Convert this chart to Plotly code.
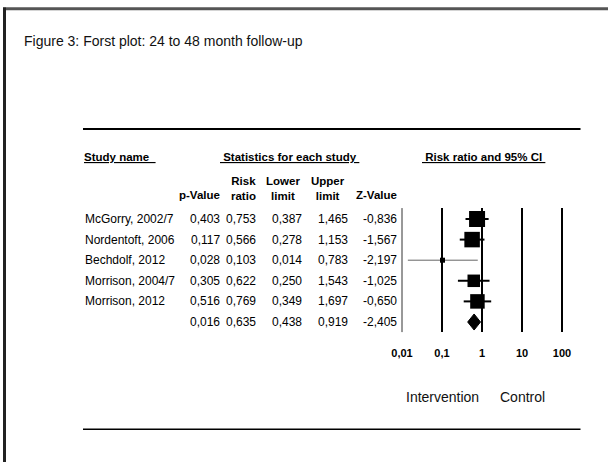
import math
import plotly.graph_objects as go

# ---------------- data ----------------
studies = ["McGorry, 2002/7", "Nordentoft, 2006", "Bechdolf, 2012",
           "Morrison, 2004/7", "Morrison, 2012", ""]
p_values = [0.403, 0.117, 0.028, 0.305, 0.516, 0.016]
risk_ratio = [0.753, 0.566, 0.103, 0.622, 0.769, 0.635]
lower_limit = [0.387, 0.278, 0.014, 0.250, 0.349, 0.438]
upper_limit = [1.465, 1.153, 0.783, 1.543, 1.697, 0.919]
z_values = [-0.836, -1.567, -2.197, -1.025, -0.650, -2.405]
tick_values = [0.01, 0.1, 1, 10, 100]
tick_labels = ["0,01", "0,1", "1", "10", "100"]

# ---------------- style ----------------
W, H = 608, 462
marker_px = [16, 15.5, 5, 12.5, 14.5]
ci_color = ["black", "black", "#666666", "black", "black"]
ci_width = [2, 2, 1, 2, 2]
FONT = "Liberation Sans, Arial, sans-serif"


def px(x):
    return x / W


def py(y):
    return 1 - y / H


def fmt(v):
    return f"{v:.3f}".replace(".", ",")


rows = [-i for i in range(len(studies))]
n_study = 5

fig = go.Figure()

# confidence interval lines
for i in range(n_study):
    fig.add_trace(go.Scatter(
        x=[lower_limit[i], upper_limit[i]], y=[rows[i], rows[i]],
        mode="lines", line=dict(color=ci_color[i], width=ci_width[i]),
        hoverinfo="skip", showlegend=False, cliponaxis=False))

# study squares
fig.add_trace(go.Scatter(
    x=risk_ratio[:n_study], y=rows[:n_study], mode="markers",
    marker=dict(symbol="square", size=marker_px, color="black", opacity=1,
                line=dict(width=0, color="black")),
    showlegend=False, cliponaxis=False))

# summary diamond
r = rows[-1]
h = 0.39
fig.add_trace(go.Scatter(
    x=[lower_limit[-1], risk_ratio[-1], upper_limit[-1], risk_ratio[-1], lower_limit[-1]],
    y=[r, r + h, r, r - h, r], mode="lines", fill="toself",
    fillcolor="black", line=dict(color="black", width=1),
    showlegend=False, hoverinfo="skip"))

shapes = []
# vertical reference lines
for t in tick_values:
    shapes.append(dict(type="line", xref="x", yref="y", x0=t, x1=t,
                       y0=0.53, y1=-5.49, layer="below",
                       line=dict(color="#333333" if t == tick_values[0] else "black",
                                 width=1 if t == tick_values[0] else 2)))
# frame & rules
shapes += [
    dict(type="line", xref="paper", yref="paper", x0=px(3), x1=px(608),
         y0=py(8.7), y1=py(8.7), line=dict(color="#555555", width=3)),
    dict(type="line", xref="paper", yref="paper", x0=px(4.5), x1=px(4.5),
         y0=py(7.5), y1=py(462), line=dict(color="#222222", width=3)),
    dict(type="line", xref="paper", yref="paper", x0=px(83), x1=px(580.5),
         y0=py(129), y1=py(129), line=dict(color="black", width=2)),
    dict(type="line", xref="paper", yref="paper", x0=px(83), x1=px(580.5),
         y0=py(429.3), y1=py(429.3), line=dict(color="black", width=1.6)),
]

ann = []
body = dict(family=FONT, size=12, color="black")
hdr = dict(family=FONT, size=11.5, color="black", weight="bold")

# title
ann.append(dict(text="Figure 3: Forst plot: 24 to 48 month follow-up",
                xref="paper", yref="paper", x=px(21.5), y=py(41),
                xanchor="left", yanchor="middle", showarrow=False,
                font=dict(family=FONT, size=14, color="#111111")))

# section headers
ann.append(dict(text="<u>Study name  </u>", xref="paper", yref="paper",
                x=px(82), y=py(157), xanchor="left", yanchor="middle",
                showarrow=False, font=hdr))
ann.append(dict(text="<u> Statistics for each study </u>", xref="paper", yref="paper",
                x=px(289), y=py(157), xanchor="center", yanchor="middle",
                showarrow=False, font=hdr))
ann.append(dict(text="<u> Risk ratio and 95% CI </u>", xref="paper", yref="paper",
                x=px(483), y=py(157), xanchor="center", yanchor="middle",
                showarrow=False, font=hdr))

# column headers
col_right = [222, 257.5, 304, 349.5, 399]
ann.append(dict(text="p-Value", xref="paper", yref="paper", x=px(col_right[0]),
                y=py(195), xanchor="right", yanchor="middle", showarrow=False, font=hdr))
ann.append(dict(text="Z-Value", xref="paper", yref="paper", x=px(col_right[4]),
                y=py(195), xanchor="right", yanchor="middle", showarrow=False, font=hdr))
for txt, cx in [("Risk<br>ratio", 243), ("Lower<br>limit", 283), ("Upper<br>limit", 328)]:
    ann.append(dict(text=txt, xref="paper", yref="paper", x=px(cx), y=py(188),
                    xanchor="center", yanchor="middle", showarrow=False, font=hdr))

# table body
for i, name in enumerate(studies):
    if name:
        ann.append(dict(text=name, xref="paper", yref="y", x=px(82.5), y=rows[i],
                        xanchor="left", yanchor="middle", showarrow=False, font=body))
    for vals, xr in zip([p_values, risk_ratio, lower_limit, upper_limit, z_values], col_right):
        ann.append(dict(text=fmt(vals[i]), xref="paper", yref="y", x=px(xr), y=rows[i],
                        xanchor="right", yanchor="middle", showarrow=False, font=body))

# favours labels (annotation x on a log axis is given in log10 units)
ann.append(dict(text="Intervention", xref="x", yref="paper",
                x=math.log10(tick_values[1]), y=py(397),
                xanchor="center", yanchor="middle", showarrow=False,
                font=dict(family=FONT, size=14, color="#111111")))
ann.append(dict(text="Control", xref="x", yref="paper",
                x=math.log10(tick_values[3]), y=py(397),
                xanchor="center", yanchor="middle", showarrow=False,
                font=dict(family=FONT, size=14, color="#111111")))

fig.update_layout(
    width=W, height=H, autosize=False,
    margin=dict(l=0, r=0, t=0, b=0),
    paper_bgcolor="white", plot_bgcolor="rgba(0,0,0,0)",
    shapes=shapes, annotations=ann, showlegend=False,
    xaxis=dict(type="log", domain=[px(392), px(572)], range=[-2.25, 2.25],
               tickvals=tick_values, ticktext=tick_labels, ticks="",
               showgrid=False, zeroline=False, showline=False,
               anchor="free", position=py(344.5), fixedrange=True,
               tickfont=dict(family=FONT, size=11, color="black", weight="bold")),
    yaxis=dict(domain=[0, 1], range=[-11.796, 10.631], visible=False,
               anchor="x", fixedrange=True),
)

fig.write_html("out.html",
               config={"displayModeBar": False, "staticPlot": True},
               post_script="document.body.style.margin='0';"
                           "document.body.style.overflow='hidden';")
